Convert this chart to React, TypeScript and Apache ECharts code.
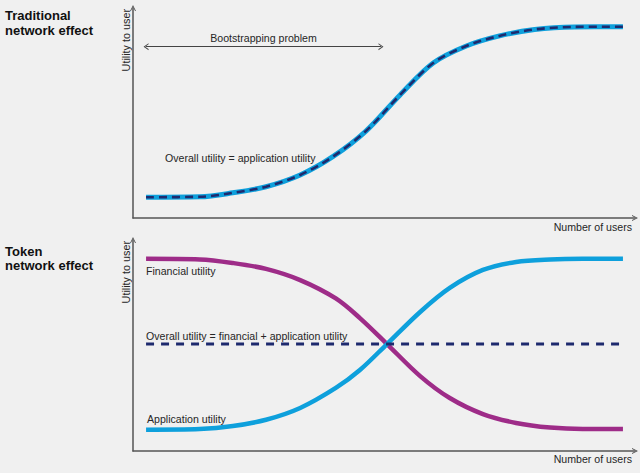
import React, { useEffect, useRef } from "react";
import * as echarts from "echarts";

// Traditional network effect (top panel)
const topUsers = [2.6, 13.3, 19.9, 26.5, 33.3, 39.8, 46.4, 53.2, 59.8, 66.4, 73.0, 80.0, 88.0, 97.6];
const topOverallUtility = [9.9, 10.1, 12.0, 14.9, 20.5, 29.2, 41.4, 58.6, 73.8, 81.9, 86.7, 89.8, 91.0, 91.1];
const bootstrapUsers = [2.6, 49.4];
const bootstrapLevel = 81.6;

// Token network effect (bottom panel)
const tokenUsers = [2.6, 13.3, 19.9, 26.5, 33.3, 40.4, 45.2, 50.6, 57.2, 63.1, 69.7, 76.3, 83.1, 89.6, 97.6];
const financialUtility = [91.1, 90.8, 89.1, 86.3, 81.0, 72.3, 63.0, 50.7, 35.5, 25.1, 17.5, 13.3, 11.1, 10.4, 10.4];
const applicationUtility = [10.1, 10.4, 11.8, 14.8, 20.4, 29.9, 38.4, 50.7, 65.9, 77.3, 85.8, 89.6, 90.8, 91.1, 91.1];
const tokenOverallUsers = [2.6, 97.6];
const tokenOverallUtility = [50.7, 50.7];

const BLUE = "#0ea0dc";
const MAGENTA = "#9e2c88";
const NAVY = "#1e2a6e";
const AXIS = "#555555";
const TEXT = "#262626";
const FONT = "'Liberation Sans', Arial, sans-serif";
const CHEVRON = "path://M0,10 L5,0 L10,10 L8.4,10 L5,3.2 L1.6,10 Z";
const SMOOTH = 0.33;

const pairs = (xs: number[], ys: number[]) => xs.map((x, i) => [x, ys[i]]);

export default function App() {
  const ref = useRef<HTMLDivElement>(null);
  useEffect(() => {
    document.body.style.margin = "0";
    document.body.style.background = "#f0f0f0";
    const chart = echarts.init(ref.current!, null, { renderer: "svg" });
    const axisBase = (i: number) => ({
      type: "value" as const,
      gridIndex: i,
      min: 0,
      max: 100,
      axisLine: {
        show: true,
        onZero: false,
        symbol: ["none", CHEVRON],
        symbolSize: [7, 6],
        lineStyle: { color: AXIS, width: 1.5 },
      },
      axisTick: { show: false },
      axisLabel: { show: false },
      splitLine: { show: false },
    });
    const txt = (text: string, x: number, y: number, extra: any = {}) => ({
      type: "text",
      x,
      y,
      silent: true,
      style: {
        text,
        fill: TEXT,
        font: `10.6px ${FONT}`,
        textVerticalAlign: "middle",
        ...extra,
      },
    });
    chart.setOption({
      animation: false,
      backgroundColor: "#f0f0f0",
      grid: [
        { left: 133, top: 8, width: 502, height: 210 },
        { left: 133, top: 240, width: 502, height: 211 },
      ],
      xAxis: [axisBase(0), axisBase(1)],
      yAxis: [axisBase(0), axisBase(1)],
      series: [
        {
          type: "line",
          xAxisIndex: 0,
          yAxisIndex: 0,
          data: pairs(topUsers, topOverallUtility),
          smooth: SMOOTH,
          showSymbol: false,
          silent: true,
          lineStyle: { color: BLUE, width: 5, cap: "butt" },
          markLine: {
            silent: true,
            symbol: [CHEVRON, CHEVRON],
            symbolSize: [7, 5],
            lineStyle: { color: "#444", width: 1.2, type: "solid" },
            label: {
              show: true,
              position: "middle",
              formatter: "Bootstrapping problem",
              color: TEXT,
              fontSize: 10.6,
              fontFamily: FONT,
              distance: 3,
            },
            data: [[{ coord: [bootstrapUsers[0], bootstrapLevel] }, { coord: [bootstrapUsers[1], bootstrapLevel] }]],
          },
        },
        {
          type: "line",
          xAxisIndex: 0,
          yAxisIndex: 0,
          data: pairs(topUsers, topOverallUtility),
          smooth: SMOOTH,
          showSymbol: false,
          silent: true,
          lineStyle: { color: NAVY, width: 2.6, type: [8, 5], cap: "butt" },
        },
        {
          type: "line",
          xAxisIndex: 1,
          yAxisIndex: 1,
          data: pairs(tokenUsers, financialUtility),
          smooth: SMOOTH,
          showSymbol: false,
          silent: true,
          lineStyle: { color: MAGENTA, width: 4.5, cap: "butt" },
        },
        {
          type: "line",
          xAxisIndex: 1,
          yAxisIndex: 1,
          data: pairs(tokenUsers, applicationUtility),
          smooth: SMOOTH,
          showSymbol: false,
          silent: true,
          lineStyle: { color: BLUE, width: 4.5, cap: "butt" },
        },
        {
          type: "line",
          xAxisIndex: 1,
          yAxisIndex: 1,
          data: pairs(tokenOverallUsers, tokenOverallUtility),
          showSymbol: false,
          silent: true,
          lineStyle: { color: NAVY, width: 3, type: [8, 7], cap: "butt" },
        },
      ],
      graphic: [
        {
          type: "text",
          x: 5,
          y: 8,
          silent: true,
          style: { text: "Traditional\nnetwork effect", fill: "#111", font: `bold 13px ${FONT}`, lineHeight: 15, textVerticalAlign: "top" },
        },
        {
          type: "text",
          x: 5,
          y: 244,
          silent: true,
          style: { text: "Token\nnetwork effect", fill: "#111", font: `bold 13px ${FONT}`, lineHeight: 14.5, textVerticalAlign: "top" },
        },
        { ...txt("Utility to user", 126, 9, { textAlign: "right", font: `10.8px ${FONT}` }), rotation: Math.PI / 2 },
        { ...txt("Utility to user", 126, 241, { textAlign: "right", font: `10.8px ${FONT}` }), rotation: Math.PI / 2 },
        txt("Number of users", 632, 227, { textAlign: "right" }),
        txt("Number of users", 632, 459, { textAlign: "right" }),
        txt("Overall utility = application utility", 165, 158),
        txt("Financial utility", 146, 271),
        txt("Overall utility = financial + application utility", 146, 336),
        txt("Application utility", 147, 419),
      ],
    });
    return () => chart.dispose();
  }, []);
  return <div ref={ref} style={{ width: 640, height: 473 }} />;
}
